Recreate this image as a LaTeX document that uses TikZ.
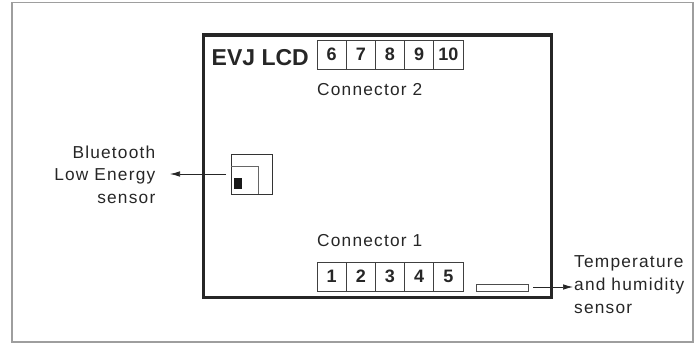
\documentclass[tikz,border=0pt]{standalone}
\usepackage{fontspec}
\setmainfont{Liberation Sans}
\newfontfamily\lblfont[LetterSpace=7]{Liberation Sans}
\usetikzlibrary{arrows.meta}
\tikzset{x=1pt,y=-1pt,
 frame/.style={draw=black!38,line width=1.3pt},
 board/.style={draw=black!85,line width=3.6pt},
 cell/.style={draw=black!75,line width=.7pt,minimum width=29.2pt,minimum height=29pt,inner sep=0pt,font=\bfseries\fontsize{18}{18}\selectfont,text=black!85},
 lbl/.style={font=\lblfont\fontsize{17.3}{22.6}\selectfont,text=black!85,inner sep=0pt},
 arr/.style={draw=black!85,line width=.7pt,-{Latex[length=10pt,width=5.5pt]}}}
\begin{document}
\begin{tikzpicture}
\useasboundingbox (0,0) rectangle (699,343);
\draw[frame] (12,2.5) rectangle (693,342);
\draw[board] (203.5,35) rectangle (551.5,297.5);
\node[inner sep=0pt,anchor=base west,font=\bfseries\fontsize{23}{23}\selectfont,text=black!85] (title) at (211.5,65) {EVJ LCD};
\foreach \n/\t [count=\i from 0] in {c6/6,c7/7,c8/8,c9/9,c10/10}
  \node[cell] (\n) at ({331.6+29.2*\i},54.5) {\t};
\foreach \n/\t [count=\i from 0] in {c1/1,c2/2,c3/3,c4/4,c5/5}
  \node[cell] (\n) at ({331.6+29.2*\i},276.5) {\t};
\node[lbl,anchor=base west] (conn2) at (317,95) {Connector 2};
\node[lbl,anchor=base west] (conn1) at (317,246) {Connector 1};
\node[draw=black!80,line width=.7pt,minimum width=41pt,minimum height=40pt,inner sep=0pt] (ble) at (251.5,174) {};
\draw[draw=black!60,line width=.7pt] (ble.west |- 0,166) -- (258.5,166) -- (258.5,194);
\node[fill=black!90,minimum width=8pt,minimum height=11pt,inner sep=0pt] (blesq) at (238,183.5) {};
\node[draw=black!70,line width=.7pt,minimum width=52pt,minimum height=7pt,inner sep=0pt] (temp) at (502,287.5) {};
\node[lbl,align=right,anchor=base east] (bletext) at (155.5,203.5) {Bluetooth\\Low Energy\\sensor};
\node[lbl,align=left,anchor=base west] (temptext) at (574,313) {Temperature\\and humidity\\sensor};
\coordinate (bleout) at (226,174);
\coordinate (blein) at (170,174);
\coordinate (tempout) at (533,287);
\coordinate (tempin) at (573,287);
\draw[arr] (bleout) -- (blein);
\draw[arr] (tempout) -- (tempin);
\end{tikzpicture}
\end{document}
